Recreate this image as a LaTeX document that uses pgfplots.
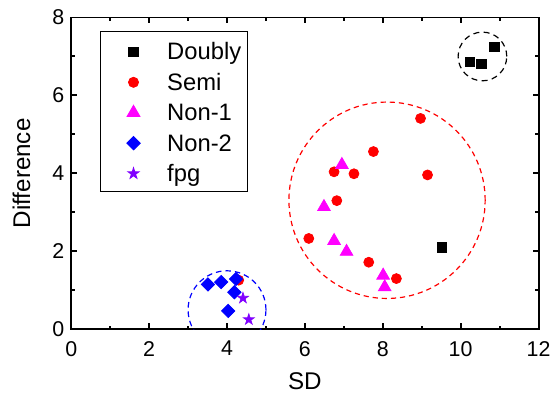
\documentclass[border=0pt]{standalone}
\usepackage{pgfplots}
\pgfplotsset{compat=1.18}
\usepackage{fontspec}
\setmainfont{Liberation Sans}
\definecolor{fpgc}{RGB}{128,0,255}
\definecolor{magc}{RGB}{255,0,255}
\definecolor{redc}{RGB}{255,0,0}
\definecolor{bluec}{RGB}{0,0,255}
\pgfdeclareplotmark{fstar}{%
  \pgfpathmoveto{\pgfpointpolar{90}{\pgfplotmarksize}}%
  \pgfpathlineto{\pgfpointpolar{126}{0.382\pgfplotmarksize}}%
  \pgfpathlineto{\pgfpointpolar{162}{\pgfplotmarksize}}%
  \pgfpathlineto{\pgfpointpolar{198}{0.382\pgfplotmarksize}}%
  \pgfpathlineto{\pgfpointpolar{234}{\pgfplotmarksize}}%
  \pgfpathlineto{\pgfpointpolar{270}{0.382\pgfplotmarksize}}%
  \pgfpathlineto{\pgfpointpolar{306}{\pgfplotmarksize}}%
  \pgfpathlineto{\pgfpointpolar{342}{0.382\pgfplotmarksize}}%
  \pgfpathlineto{\pgfpointpolar{18}{\pgfplotmarksize}}%
  \pgfpathlineto{\pgfpointpolar{54}{0.382\pgfplotmarksize}}%
  \pgfpathclose
  \pgfusepathqfillstroke}
\begin{document}
\begin{tikzpicture}
\begin{axis}[
  scale only axis,
  width=235bp, height=156.8bp,
  xmin=0, xmax=12, ymin=0, ymax=8,
  xtick={0,2,...,12}, ytick={0,2,...,8},
  minor x tick num=1, minor y tick num=1,
  tick align=inside,
  major tick length=3bp, minor tick length=1.8bp,
  every tick/.style={black, line width=1bp},
  axis line style={line width=1bp},
  /pgf/number format/assume math mode=true,
  ticklabel style={font=\fontsize{10.8}{12}\selectfont},
  xticklabel style={yshift=-2.5bp},
  xlabel={SD}, ylabel={Difference},
  every axis x label/.style={at={(rel axis cs:0.5,-0.1658)}, anchor=center, font=\fontsize{12.2}{14}\selectfont},
  every axis y label/.style={at={(rel axis cs:-0.1064,0.5)}, anchor=center, rotate=90, font=\fontsize{12.2}{14}\selectfont},
  legend cell align=left,
  legend image code/.code={\path (0bp,0bp) (30bp,0bp); \draw[#1,only marks] plot coordinates {(16.3bp,-0.6bp)};},
  legend style={at={(rel axis cs:0,1)}, anchor=north west, xshift=14.5bp, yshift=-7bp,
    draw=black, line width=0.5bp, inner xsep=0pt, inner ysep=1.8bp,
    font=\fontsize{12}{14}\selectfont, row sep=0pt,
    nodes={inner xsep=3bp, inner ysep=1.5bp, text height=10.8bp, text depth=1.5bp}},
]
\addplot[only marks, mark=square*, mark size=2.33bp, color=black] coordinates {
 (10.24,6.87) (10.53,6.80) (10.87,7.24) (9.51,2.10)};
\addlegendentry{Doubly}
\addplot[only marks, mark=*, mark size=2.5bp, color=redc] coordinates {
 (8.97,5.41) (7.76,4.56) (6.75,4.04) (7.26,3.99) (9.15,3.96) (6.82,3.30)
 (6.10,2.33) (7.64,1.72) (8.35,1.30) (4.30,1.26)};
\addlegendentry{Semi}
\addplot[only marks, mark=triangle*, mark size=3.66bp, color=magc] coordinates {
 (6.95,4.22) (6.49,3.14) (6.75,2.27) (7.07,1.99) (8.01,1.38) (8.05,1.08)};
\addlegendentry{Non-1}
\addplot[only marks, mark=square*, mark size=2.36bp, mark options={rotate=45}, color=bluec] coordinates {
 (3.51,1.15) (3.85,1.21) (4.23,1.29) (4.19,0.95) (4.03,0.47)};
\addlegendentry{Non-2}
\addplot[only marks, mark=fstar, mark size=2.8bp, color=fpgc] coordinates {
 (4.41,0.80) (4.56,0.25)};
\addlegendentry{fpg}
\draw[black, line width=0.6bp, dash pattern=on 3bp off 2.2bp] (axis cs:10.56,7.00) ellipse [x radius=0.625, y radius=0.625];
\draw[redc, line width=0.6bp, dash pattern=on 2.6bp off 2bp] (axis cs:8.11,3.31) ellipse [x radius=2.52, y radius=2.52];
\draw[bluec, line width=0.6bp, dash pattern=on 2.8bp off 2bp] (axis cs:4.0,0.5) ellipse [x radius=1.0, y radius=1.0];
\coordinate (sw) at (rel axis cs:0,0);
\coordinate (ne) at (rel axis cs:1,1);
\end{axis}
\path (sw) ++(-35.85bp,-32.9bp);
\path (ne) ++(7.65bp,8.8bp);
\end{tikzpicture}
\end{document}
